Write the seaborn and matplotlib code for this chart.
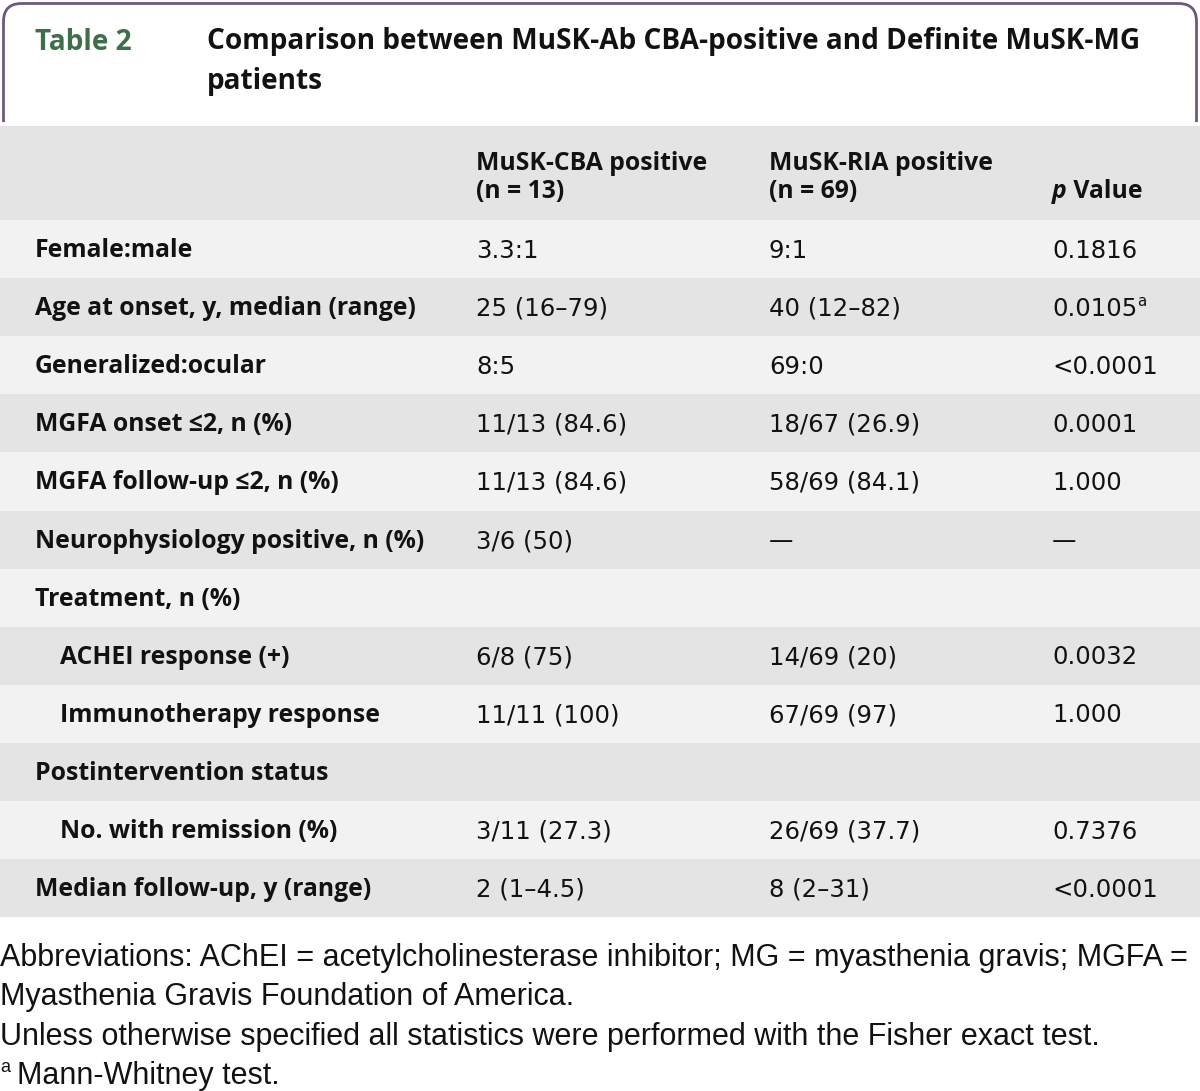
import matplotlib
matplotlib.use("Agg")
import matplotlib.pyplot as plt
import numpy as np
import seaborn as sns
from matplotlib.colors import ListedColormap
from matplotlib.patches import Rectangle
from matplotlib.path import Path
from matplotlib.patches import PathPatch

# ---- table content ----
TABLE_NO = "Table 2"
TITLE = ["Comparison between MuSK-Ab CBA-positive and Definite MuSK-MG",
         "patients"]
COL_HEADS = [["MuSK-CBA positive", "(n = 13)"],
             ["MuSK-RIA positive", "(n = 69)"]]
ROW_LABELS = [
    "Female:male",
    "Age at onset, y, median (range)",
    "Generalized:ocular",
    "MGFA onset \u22642, n (%)",
    "MGFA follow-up \u22642, n (%)",
    "Neurophysiology positive, n (%)",
    "Treatment, n (%)",
    "ACHEI response (+)",
    "Immunotherapy response",
    "Postintervention status",
    "No. with remission (%)",
    "Median follow-up, y (range)",
]
INDENTED = [False, False, False, False, False, False, False,
            True, True, False, True, False]
CBA_VALUES = ["3.3:1", "25 (16\u201379)", "8:5", "11/13 (84.6)", "11/13 (84.6)",
              "3/6 (50)", "", "6/8 (75)", "11/11 (100)", "", "3/11 (27.3)",
              "2 (1\u20134.5)"]
RIA_VALUES = ["9:1", "40 (12\u201382)", "69:0", "18/67 (26.9)", "58/69 (84.1)",
              "\u2014", "", "14/69 (20)", "67/69 (97)", "", "26/69 (37.7)",
              "8 (2\u201331)"]
P_VALUES = ["0.1816", "0.0105", "<0.0001", "0.0001", "1.000", "\u2014", "",
            "0.0032", "1.000", "", "0.7376", "<0.0001"]
P_NOTES = ["", "a", "", "", "", "", "", "", "", "", "", ""]
FOOTNOTES = [
    "Abbreviations: AChEI = acetylcholinesterase inhibitor; MG = myasthenia gravis; MGFA =",
    "Myasthenia Gravis Foundation of America.",
    "Unless otherwise specified all statistics were performed with the Fisher exact test.",
]
FOOTNOTE_A = "Mann-Whitney test."

# ---- layout (pixels) ----
W, H = 1200, 1091
HEAD_TOP, BODY_TOP, ROW_H = 126, 220, 58.1
X_LABEL, X_INDENT, X_COLS = 35, 60, [476, 769, 1052]
LIGHT, DARK = "#f2f2f2", "#e4e4e4"
PURPLE, GREEN, INK = "#6b5880", "#3f6e4b", "#121212"
BOLD_FONT = ["Open Sans", "DejaVu Sans"]
VALUE_FONT = ["DejaVu Sans"]
NOTE_FONT = ["Liberation Sans", "DejaVu Sans"]
FS_BOLD, FS_VAL, FS_TITLE, FS_NOTE = 17.8, 17.6, 20.2, 22.0

sns.set_theme(style="white")
plt.rcParams["font.family"] = BOLD_FONT

fig = plt.figure(figsize=(W / 100, H / 100), dpi=100)

# striped body rows via seaborn heatmap
n = len(ROW_LABELS)
body_bottom = BODY_TOP + n * ROW_H
hax = fig.add_axes([0, 1 - body_bottom / H, 1, n * ROW_H / H])
stripes = (np.arange(n) % 2).reshape(-1, 1)
sns.heatmap(stripes, ax=hax, cmap=ListedColormap([LIGHT, DARK]), cbar=False,
            xticklabels=False, yticklabels=False, vmin=0, vmax=1)
hax.set_axis_off()

# overlay axes in pixel coordinates
ax = fig.add_axes([0, 0, 1, 1])
ax.set_xlim(0, W)
ax.set_ylim(H, 0)
ax.set_axis_off()
ax.patch.set_alpha(0)

# header band
ax.add_patch(Rectangle((0, HEAD_TOP), W, BODY_TOP - HEAD_TOP, color=DARK, lw=0))

# rounded title frame
x0, x1, y0, yb, r = 3.5, 1196.5, 3.5, 122, 18
verts = [(x0, yb), (x0, y0 + r), (x0, y0), (x0 + r, y0), (x1 - r, y0),
         (x1, y0), (x1, y0 + r), (x1, yb)]
codes = [Path.MOVETO, Path.LINETO, Path.CURVE3, Path.CURVE3, Path.LINETO,
         Path.CURVE3, Path.CURVE3, Path.LINETO]
ax.add_patch(PathPatch(Path(verts, codes), fill=False, ec=PURPLE, lw=2.0))

ax.text(35, 42, TABLE_NO, color=GREEN, fontsize=FS_TITLE, fontweight="bold",
        va="center")
for i, line in enumerate(TITLE):
    ax.text(207, 42 + i * 39, line, color=INK, fontsize=FS_TITLE,
            fontweight="bold", va="center")

# column headings
for x, (l1, l2) in zip(X_COLS, COL_HEADS):
    ax.text(x, 163, l1, fontsize=FS_BOLD, fontweight="bold", color=INK,
            va="center")
    ax.text(x, 191, l2, fontsize=FS_BOLD, fontweight="bold", color=INK,
            va="center")
tp = ax.text(X_COLS[2], 191, "p", fontsize=FS_BOLD, fontweight="bold",
             style="italic", color=INK, va="center")
ax.annotate(" Value", xy=(1, 0.5), xycoords=tp, va="center", fontsize=FS_BOLD,
            fontweight="bold", color=INK)

# body
for i, label in enumerate(ROW_LABELS):
    yc = BODY_TOP + (i + 0.5) * ROW_H + 1.5
    ax.text(X_INDENT if INDENTED[i] else X_LABEL, yc, label,
            fontsize=FS_BOLD, fontweight="bold", color=INK, va="center")
    ax.text(X_COLS[0], yc, CBA_VALUES[i], fontsize=FS_VAL, color=INK,
            va="center", family=VALUE_FONT)
    ax.text(X_COLS[1], yc, RIA_VALUES[i], fontsize=FS_VAL, color=INK,
            va="center", family=VALUE_FONT)
    t = ax.text(X_COLS[2], yc, P_VALUES[i], fontsize=FS_VAL, color=INK,
                va="center", family=VALUE_FONT)
    if P_NOTES[i]:
        ax.annotate(P_NOTES[i], xy=(1, 1), xycoords=t, va="top",
                    fontsize=FS_VAL * 0.62, color=INK, xytext=(0, 2),
                    textcoords="offset points", family=VALUE_FONT)

# footnotes
for i, line in enumerate(FOOTNOTES):
    ax.text(0, 958 + i * 39.3, line, fontsize=FS_NOTE, color=INK,
            va="center", family=NOTE_FONT)
ax.text(0, 1068, "a", fontsize=13, color=INK, va="center", family=NOTE_FONT)
ax.text(17, 1076, FOOTNOTE_A, fontsize=FS_NOTE, color=INK, va="center",
        family=NOTE_FONT)

fig.savefig("out.png", dpi=100, facecolor="white")
